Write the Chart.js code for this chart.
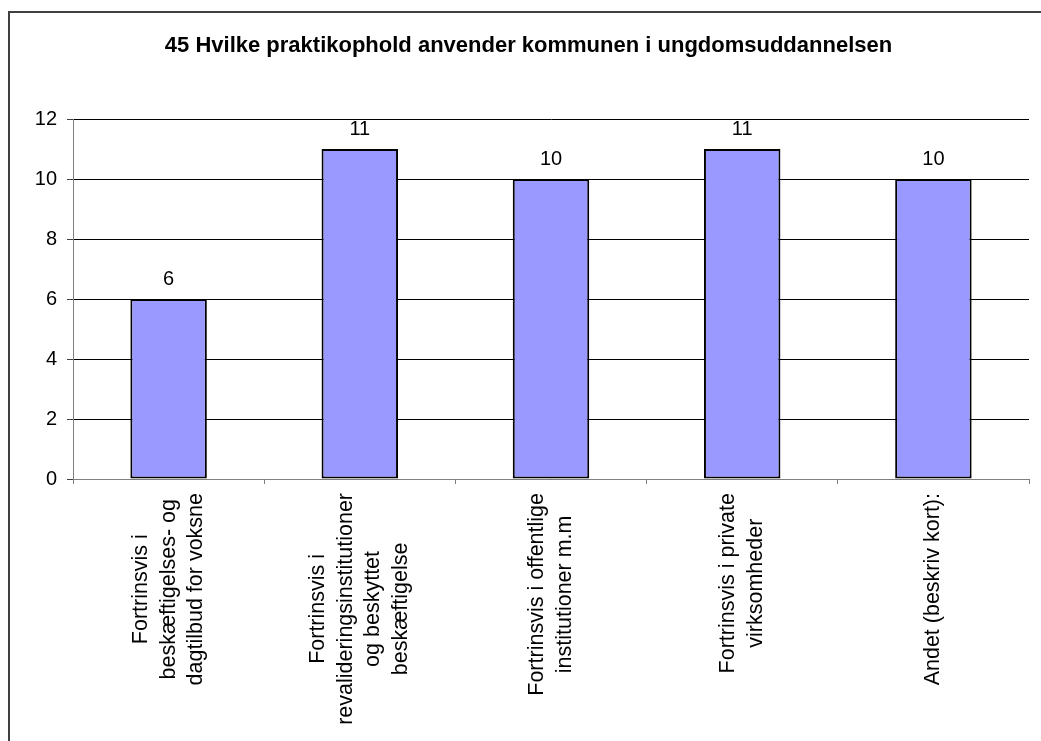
<!DOCTYPE html>
<html>
<head>
<meta charset="utf-8">
<script src="https://cdn.jsdelivr.net/npm/chart.js@4/dist/chart.umd.min.js"></script>
<style>
  html, body { margin: 0; padding: 0; background: #fff; overflow: hidden; }
  #wrap { position: relative; width: 1041px; height: 741px; }
</style>
</head>
<body>
<div id="wrap"><canvas id="bar-chart"></canvas></div>
<script>
// data
const titleText = "45 Hvilke praktikophold anvender kommunen i ungdomsuddannelsen";
const categories = [
  ["Fortrinsvis i", "beskæftigelses- og", "dagtilbud for voksne"],
  ["Fortrinsvis i", "revalideringsinstitutioner", "og beskyttet", "beskæftigelse"],
  ["Fortrinsvis i offentlige", "institutioner m.m"],
  ["Fortrinsvis i private", "virksomheder"],
  ["Andet (beskriv kort):"]
];
const values = [6, 11, 10, 11, 10];
const yTicks = [0, 2, 4, 6, 8, 10, 12];

const fontFamily = "'Liberation Sans', Arial, sans-serif";

// frame around the whole chart (only top and left are inside the picture)
const frame = {
  id: 'frame',
  beforeDraw(chart) {
    const ctx = chart.ctx;
    ctx.save();
    ctx.strokeStyle = '#404040';
    ctx.lineWidth = 2;
    ctx.strokeRect(9, 12, 1200, 900);
    ctx.restore();
  }
};

// category labels: center every line, and center the block on the tick
const centerLabels = {
  id: 'centerLabels',
  beforeDraw(chart) {
    const scale = chart.scales.x;
    const ctx = chart.ctx;
    scale.getLabelItems().forEach(item => {
      if (item.centered) return;
      const lines = Array.isArray(item.label) ? item.label : [item.label];
      ctx.save();
      ctx.font = item.font.string;
      const w = Math.max(...lines.map(l => ctx.measureText(l).width));
      ctx.restore();
      const t = item.options.translation;
      item.options.translation = [t[0] - (lines.length - 1) * item.font.lineHeight / 2, t[1] + w / 2];
      item.options.textAlign = 'center';
      item.centered = true;
    });
  }
};

// numbers above the bars
const valueLabels = {
  id: 'valueLabels',
  afterDatasetsDraw(chart) {
    const ctx = chart.ctx;
    const meta = chart.getDatasetMeta(0);
    ctx.save();
    ctx.font = '20px ' + fontFamily;
    ctx.fillStyle = '#000';
    ctx.textAlign = 'center';
    ctx.textBaseline = 'alphabetic';
    meta.data.forEach((bar, i) => {
      ctx.fillText(String(values[i]), bar.x, bar.y - 14);
    });
    ctx.restore();
  }
};

const info = {
  labels: categories,
  datasets: [
    {
      data: values,
      backgroundColor: '#9999FF',
      borderColor: '#000000',
      borderWidth: 2,
      borderSkipped: false,
      barPercentage: 0.4,
      categoryPercentage: 1.0
    }
  ]
};

const options = {
  responsive: true,
  maintainAspectRatio: false,
  animation: false,
  layout: { padding: { left: 28, right: 12, top: 0, bottom: 0 } },
  scales: {
    x: {
      grid: {
        display: true,
        drawOnChartArea: false,
        drawTicks: true,
        tickLength: 5,
        offset: true,
        color: '#808080'
      },
      border: { display: true, color: '#808080', width: 1 },
      ticks: {
        autoSkip: false,
        minRotation: 90,
        maxRotation: 90,
        padding: 9,
        color: '#000',
        font: { family: fontFamily, size: 21.5, lineHeight: 1.28 }
      },
      afterFit(scale) { scale.height = 262; }
    },
    y: {
      min: 0,
      max: 12,
      afterBuildTicks(scale) { scale.ticks = yTicks.map(v => ({ value: v })); },
      grid: {
        color: '#000',
        tickLength: 6,
        tickColor: '#404040'
      },
      border: { display: true, color: '#808080', width: 1 },
      ticks: {
        padding: 10,
        color: '#000',
        font: { family: fontFamily, size: 20 }
      },
      afterFit(scale) { scale.width = 45; }
    }
  },
  plugins: {
    legend: { display: false },
    tooltip: { enabled: false },
    title: {
      display: true,
      text: titleText,
      color: '#000',
      font: { family: fontFamily, size: 22, weight: 'bold', lineHeight: 1.2 },
      padding: { top: 33, bottom: 59.6 }
    }
  }
};

new Chart(document.getElementById('bar-chart'), {
  type: 'bar',
  data: info,
  options,
  plugins: [frame, centerLabels, valueLabels]
});
</script>
</body>
</html>
